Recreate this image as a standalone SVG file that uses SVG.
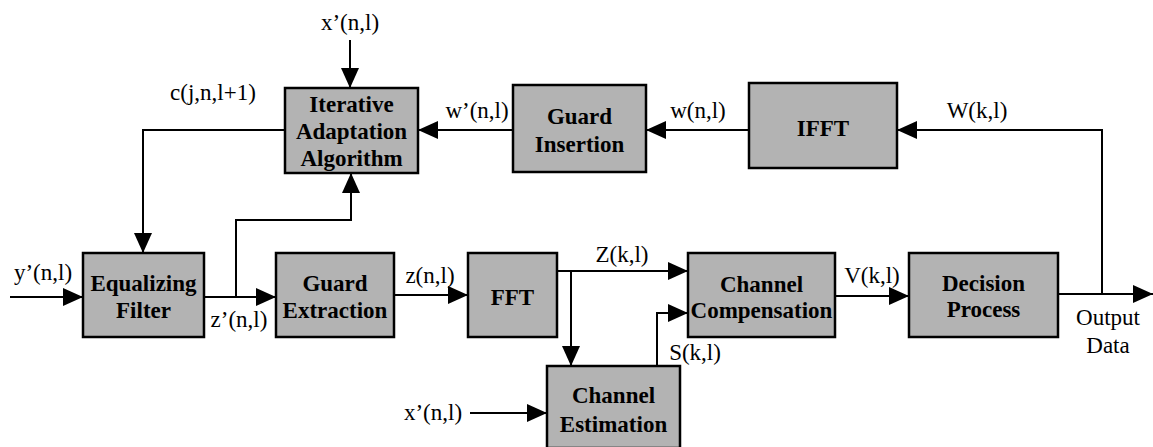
<svg xmlns="http://www.w3.org/2000/svg" width="1153" height="447" viewBox="0 0 1153 447">
<style>
.box{fill:#b3b3b3;stroke:#000;stroke-width:2.5}
.bt{font-family:"Liberation Serif","Times New Roman",Times,"DejaVu Serif",serif;font-weight:bold;font-size:23px;text-anchor:middle;fill:#000}
.lb{font-family:"Liberation Serif","Times New Roman",Times,"DejaVu Serif",serif;font-size:23px;text-anchor:middle;fill:#000}
.ln{fill:none;stroke:#000;stroke-width:2}
</style>
<defs>
<marker id="ah" markerUnits="userSpaceOnUse" markerWidth="20" markerHeight="18" refX="20" refY="9" orient="auto">
<path d="M0,0 L20,9 L0,18 z" fill="#000"/>
</marker>
</defs>
<rect width="1153" height="447" fill="#fff"/>
<g id="iaa"><rect class="box" x="285" y="88" width="133" height="85"/>
<text class="bt" x="351.5" y="112">Iterative</text><text class="bt" x="351.5" y="139">Adaptation</text><text class="bt" x="351.5" y="166">Algorithm</text></g>
<g id="guard-ins"><rect class="box" x="513" y="85" width="133" height="87"/>
<text class="bt" x="579.5" y="124">Guard</text><text class="bt" x="579.5" y="152">Insertion</text></g>
<g id="ifft"><rect class="box" x="749" y="83" width="148" height="85"/>
<text class="bt" x="823" y="136">IFFT</text></g>
<g id="eq"><rect class="box" x="83" y="253" width="121" height="84"/>
<text class="bt" x="143.5" y="291">Equalizing</text><text class="bt" x="143.5" y="318">Filter</text></g>
<g id="guard-ext"><rect class="box" x="276" y="253" width="118" height="84"/>
<text class="bt" x="335" y="291">Guard</text><text class="bt" x="335" y="318">Extraction</text></g>
<g id="fft"><rect class="box" x="468" y="253" width="89" height="84"/>
<text class="bt" x="512.5" y="305">FFT</text></g>
<g id="chcomp"><rect class="box" x="688" y="253" width="147" height="84"/>
<text class="bt" x="761.5" y="292">Channel</text><text class="bt" x="761.5" y="318">Compensation</text></g>
<g id="decision"><rect class="box" x="909" y="253" width="149" height="84"/>
<text class="bt" x="983.5" y="291">Decision</text><text class="bt" x="983.5" y="317">Process</text></g>
<g id="chest"><rect class="box" x="547" y="366" width="133" height="82"/>
<text class="bt" x="613.5" y="403">Channel</text><text class="bt" x="613.5" y="432">Estimation</text></g>
<g id="connectors">
<path class="ln" d="M350,40 V88" marker-end="url(#ah)"/>
<path class="ln" d="M285,130 H143 V253" marker-end="url(#ah)"/>
<path class="ln" d="M513,130 H418" marker-end="url(#ah)"/>
<path class="ln" d="M749,130 H646" marker-end="url(#ah)"/>
<path class="ln" d="M1102,294 V130 H897" marker-end="url(#ah)"/>
<path class="ln" d="M10,297 H83" marker-end="url(#ah)"/>
<path class="ln" d="M204,297 H276" marker-end="url(#ah)"/>
<path class="ln" d="M236,297 V220 H351 V173" marker-end="url(#ah)"/>
<path class="ln" d="M394,295 H468" marker-end="url(#ah)"/>
<path class="ln" d="M557,271 H688" marker-end="url(#ah)"/>
<path class="ln" d="M571,271 V366" marker-end="url(#ah)"/>
<path class="ln" d="M657,366 V313 H688" marker-end="url(#ah)"/>
<path class="ln" d="M470,413 H547" marker-end="url(#ah)"/>
<path class="ln" d="M835,296 H909" marker-end="url(#ah)"/>
<path class="ln" d="M1058,294 H1153" marker-end="url(#ah)"/>
</g>
<g id="labels">
<text class="lb" x="350" y="30">x’(n,l)</text>
<text class="lb" x="213" y="100">c(j,n,l+1)</text>
<text class="lb" x="477" y="118">w’(n,l)</text>
<text class="lb" x="698" y="118">w(n,l)</text>
<text class="lb" x="977" y="118">W(k,l)</text>
<text class="lb" x="43" y="280">y’(n,l)</text>
<text class="lb" x="239" y="327">z’(n,l)</text>
<text class="lb" x="430" y="283">z(n,l)</text>
<text class="lb" x="622" y="262">Z(k,l)</text>
<text class="lb" x="872" y="283">V(k,l)</text>
<text class="lb" x="695" y="360">S(k,l)</text>
<text class="lb" x="433" y="420">x’(n,l)</text>
<text class="lb" x="1108" y="325">Output</text>
<text class="lb" x="1108" y="353">Data</text>
</g>
</svg>
